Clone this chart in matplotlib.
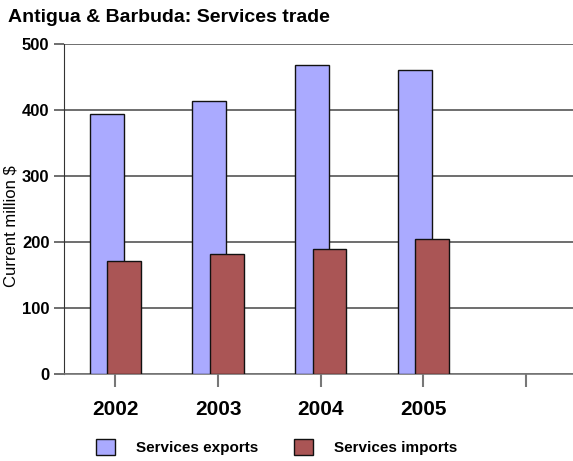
import matplotlib
matplotlib.use("Agg")
import matplotlib.pyplot as plt
import numpy as np

plt.rcParams['font.family'] = ['Liberation Sans', 'DejaVu Sans']

years = ["2002", "2003", "2004", "2005", ""]
exports = [394, 413, 468, 461]
imports = [171, 182, 190, 205]

W, H = 573, 461
fig = plt.figure(figsize=(W / 100, H / 100), dpi=100)
left, right, top, bottom = 64, 577.5, 44, 374
ax = fig.add_axes([left / W, (H - bottom) / H, (right - left) / W, (bottom - top) / H])

x = np.arange(len(exports))
bw = 0.33
off = 0.085
ax.bar(x - off, exports, width=bw, color="#AAAAFF", edgecolor="#111111", linewidth=1.0, zorder=3,
       label="Services exports")
ax.bar(x + off, imports, width=bw, color="#AA5555", edgecolor="#111111", linewidth=1.0, zorder=4,
       label="Services imports")

ax.set_xlim(-0.5, 4.5)
ax.set_ylim(0, 500)
ax.set_yticks([0, 100, 200, 300, 400, 500])
ax.set_xticks(np.arange(len(years)))
ax.set_xticklabels(years, fontsize=15, fontweight="bold")
for lbl in ax.get_yticklabels():
    lbl.set_fontsize(12)
    lbl.set_fontweight("bold")

ax.yaxis.grid(True, color="#555555", linewidth=1.2, zorder=1)
ax.set_axisbelow(True)
for s in ["top", "right"]:
    ax.spines[s].set_visible(False)
ax.spines["left"].set_color("#333333")
ax.spines["bottom"].set_color("#777777")
ax.spines["bottom"].set_linewidth(1.2)
ax.tick_params(axis="y", length=7.5, width=1.2, color="#555555", pad=3)
ax.tick_params(axis="x", length=9, width=1.5, color="#777777", pad=10)

fig.text(11 / W, 1 - 226 / H, "Current million $", fontsize=12, rotation=90,
         va="center", ha="center")

fig.text(8 / W, 1 - 17 / H, "Antigua & Barbuda: Services trade", fontsize=14, fontweight="bold",
         va="center", ha="left")

leg = fig.legend(loc="center left", bbox_to_anchor=(82 / W, 1 - 447 / H), ncol=2, frameon=False,
                 prop={"size": 11, "weight": "bold"}, handlelength=1.25, handleheight=1.25,
                 handletextpad=1.4, columnspacing=2.3)

fig.savefig("out.png", dpi=100)
